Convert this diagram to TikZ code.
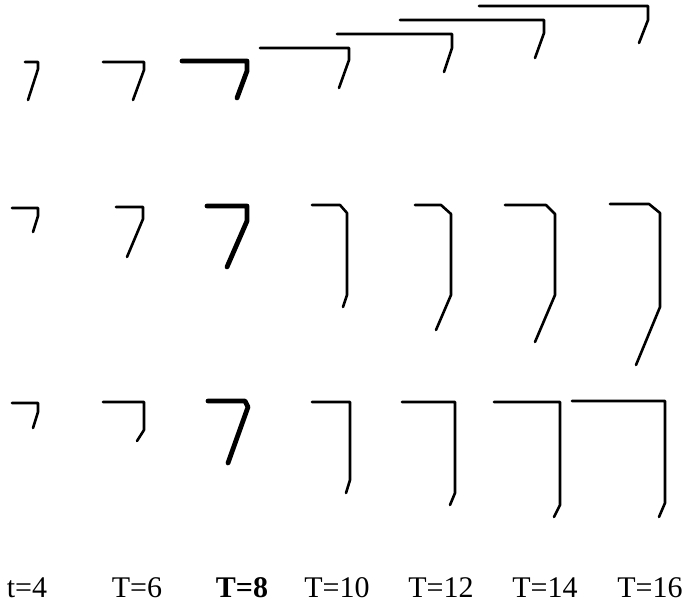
\documentclass[tikz,border=0pt]{standalone}
\usepackage{fontspec}
\setmainfont{Liberation Serif}
\usepackage{tikz}

\begin{document}
\begin{tikzpicture}[x=0.5pt, y=-0.5pt,
    trace/.style={line width=1.3pt, black, line join=round, line cap=round},
    tracebold/.style={line width=2.4pt, black, line join=round, line cap=round},
    timelabel/.style={anchor=base, inner sep=0pt, font=\fontsize{15}{18}\selectfont}]
  \useasboundingbox (0,0) rectangle (684,603);

  % top row
  \draw[trace] (25,62) -- (38,62) -- (38,69) -- (28,100);
  \draw[trace] (103,62) -- (144,62) -- (144,70) -- (133,100);
  \draw[tracebold] (182,61) -- (247,61) -- (247,71) -- (237,98);
  \draw[trace] (260,48) -- (349,48) -- (349,60) -- (339,88);
  \draw[trace] (337,34) -- (452,34) -- (452,48) -- (444,72);
  \draw[trace] (400,20) -- (544,20) -- (544,33) -- (535,58);
  \draw[trace] (479,6) -- (648,6) -- (648,20) -- (639,43);

  % middle row
  \draw[trace] (12,208) -- (38,208) -- (38,216) -- (33,232);
  \draw[trace] (116,207) -- (143,207) -- (143,219) -- (127,257);
  \draw[tracebold] (207,206) -- (247,206) -- (247,221) -- (227,267);
  \draw[trace] (312,205) -- (340,205) -- (347,213) -- (347,295) -- (343,307);
  \draw[trace] (415,205) -- (441,205) -- (451,214) -- (451,295) -- (436,330);
  \draw[trace] (505,205) -- (546,205) -- (555,214) -- (555,295) -- (535,342);
  \draw[trace] (610,204) -- (649,204) -- (660,213) -- (660,307) -- (636,365);

  % bottom row
  \draw[trace] (12,403) -- (38,403) -- (38,412) -- (33,428);
  \draw[trace] (103,402) -- (144,402) -- (144,430) -- (137,441);
  \draw[tracebold] (208,401) -- (245,401) -- (248,407) -- (228,463);
  \draw[trace] (312,402) -- (350,402) -- (350,480) -- (346,493);
  \draw[trace] (402,402) -- (455,402) -- (455,493) -- (450,505);
  \draw[trace] (494,402) -- (560,402) -- (560,505) -- (554,517);
  \draw[trace] (572,401) -- (665,401) -- (665,503) -- (659,517);

  % time labels
  \node[timelabel] (t4)  at (27,597)  {t=4};
  \node[timelabel] (t6)  at (137,597) {T=6};
  \node[timelabel, font=\fontsize{15}{18}\selectfont\bfseries] (t8) at (242,597) {T=8};
  \node[timelabel] (t10) at (337,597) {T=10};
  \node[timelabel] (t12) at (441,597) {T=12};
  \node[timelabel] (t14) at (545,597) {T=14};
  \node[timelabel] (t16) at (650,597) {T=16};
\end{tikzpicture}
\end{document}
